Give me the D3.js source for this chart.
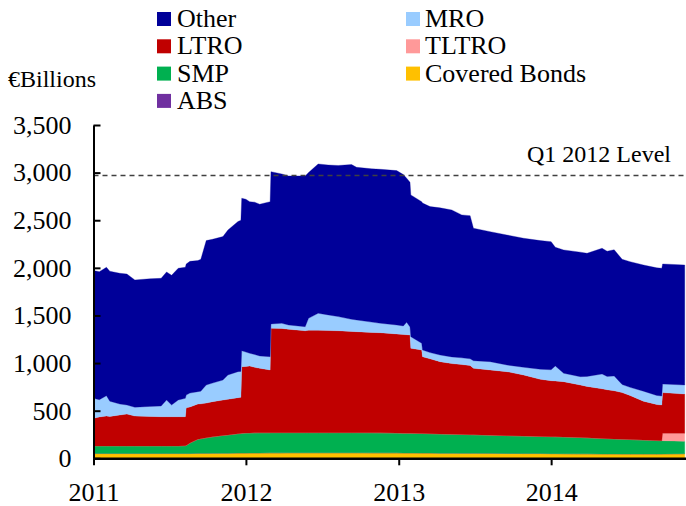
<!DOCTYPE html>
<html>
<head>
<meta charset="utf-8">
<script src="https://cdn.jsdelivr.net/npm/d3@7"></script>
<style>
  body { margin: 0; background: #fff; }
  svg { display: block; font-family: "Liberation Serif", "Times New Roman", serif; }
</style>
</head>
<body>
<div id="chart"></div>
<script>
// ECB balance sheet, asset side components (EUR bn)
const dates = [
  "2011-01-01","2011-01-15","2011-02-01","2011-02-09","2011-03-05","2011-03-22","2011-04-10","2011-05-16",
  "2011-06-12","2011-06-25","2011-07-07","2011-07-23","2011-08-09","2011-08-11","2011-08-20","2011-09-08",
  "2011-09-15","2011-09-28","2011-10-13","2011-11-07","2011-11-19","2011-12-13","2011-12-20","2011-12-22",
  "2012-01-01","2012-01-10","2012-01-22","2012-02-03","2012-02-28","2012-03-01","2012-03-27","2012-04-12",
  "2012-05-22","2012-05-30","2012-06-22","2012-07-16","2012-08-09","2012-09-10","2012-09-22","2012-10-28",
  "2012-11-18","2012-12-27","2013-01-12","2013-01-20","2013-01-28","2013-01-30","2013-02-25","2013-02-27",
  "2013-03-17","2013-04-10","2013-05-08","2013-06-01","2013-06-21","2013-06-29","2013-08-08","2013-09-17",
  "2013-10-27","2013-12-06","2014-01-01","2014-01-11","2014-01-31","2014-03-12","2014-03-28","2014-05-03",
  "2014-05-15","2014-06-01","2014-06-20","2014-07-09","2014-08-10","2014-09-11","2014-09-23","2014-09-25",
  "2014-11-17"
];

const coveredBonds = [
  50,50,50,50,50,50,50,50, 50,50,50,50,50,50,50,52, 52,52,53,54,54,55,55,55,
  55,56,56,56,57,57,57,58, 58,58,58,58,58,58,58,57, 57,57,56,56,56,56,55,55,
  55,54,54,53,53,53,52,51, 50,50,49,49,48,47,47,46, 46,46,45,45,45,45,45,46, 48
];
const abs = [
  0,0,0,0,0,0,0,0, 0,0,0,0,0,0,0,0, 0,0,0,0,0,0,0,0,
  0,0,0,0,0,0,0,0, 0,0,0,0,0,0,0,0, 0,0,0,0,0,0,0,0,
  0,0,0,0,0,0,0,0, 0,0,0,0,0,0,0,0, 0,0,0,0,0,0,0,0, 0
];
const smp = [
  80,80,80,80,80,80,80,80, 80,80,80,80,82,85,110,148, 153,163,172,186,191,203,205,207,
  210,210,211,212,211,212,212,211, 211,211,211,211,211,211,211,211, 210,208,207,207,206,206,205,205,
  203,201,198,197,195,194,191,187, 183,179,178,177,176,171,168,162, 160,157,155,152,146,141,140,139, 130
];
const tltro = [
  0,0,0,0,0,0,0,0, 0,0,0,0,0,0,0,0, 0,0,0,0,0,0,0,0,
  0,0,0,0,0,0,0,0, 0,0,0,0,0,0,0,0, 0,0,0,0,0,0,0,0,
  0,0,0,0,0,0,0,0, 0,0,0,0,0,0,0,0, 0,0,0,0,0,0,0,78, 85
];
const ltro = [
  290,305,314,310,325,335,314,310, 307,307,307,307,305,395,380,370, 367,365,370,372,375,379,380,700,
  700,704,688,677,660,1097,1095,1086, 1071,1076,1076,1073,1071,1063,1061,1054, 1052,1041,1037,1035,1033,893,878,807,
  787,760,743,735,727,698,685,672, 642,601,588,586,581,552,540,522, 514,507,490,463,409,379,375,427, 412
];
const mro = [
  210,180,214,160,115,95,92,105, 112,175,123,175,193,135,145,130, 133,190,195,210,255,273,272,168,
  150,133,135,130,139,45,54,45, 42,125,178,164,148,128,123,108, 99,94,90,130,85,122,70,71,
  65,70,70,70,70,80,87,70, 81,105,115,158,88,87,105,155, 140,155,85,85,105,95,94,90, 95
];
const other = [
  1341,1345,1348,1365,1373,1375,1337,1340, 1341,1345,1362,1384,1376,1375,1383,1376, 1385,1516,1510,1506,1523,1576,1588,1601,
  1605,1592,1600,1593,1628,1599,1568,1565, 1583,1530,1568,1574,1587,1625,1603,1610, 1617,1621,1590,1513,1520,1489,1487,1542,
  1533,1545,1543,1501,1503,1391,1365,1365, 1355,1351,1345,1246,1295,1308,1293,1321, 1315,1325,1315,1320,1325,1340,1342,1261, 1260
];

const q1Level = 2970;
const yTicks = [0, 500, 1000, 1500, 2000, 2500, 3000, 3500];

const series = [
  { key: "Covered Bonds", color: "#FFC000", values: coveredBonds },
  { key: "ABS", color: "#7030A0", values: abs },
  { key: "SMP", color: "#00B050", values: smp },
  { key: "TLTRO", color: "#FF9999", values: tltro },
  { key: "LTRO", color: "#C00000", values: ltro },
  { key: "MRO", color: "#99CCFF", values: mro },
  { key: "Other", color: "#000099", values: other }
];
const legendCol1 = ["Other", "LTRO", "SMP", "ABS"];
const legendCol2 = ["MRO", "TLTRO", "Covered Bonds"];

const width = 686, height = 506;
const parse = d3.timeParse("%Y-%m-%d");

const rows = dates.map((d, i) => {
  const r = { date: parse(d) };
  series.forEach(s => r[s.key] = s.values[i]);
  return r;
});

const svg = d3.select("#chart").append("svg")
  .attr("width", width)
  .attr("height", height);

const x = d3.scaleTime()
  .domain([parse("2011-01-01"), parse("2014-11-20")])
  .range([93.5, 686]);
const y = d3.scaleLinear()
  .domain([0, 3500])
  .range([458.3, 125]);

const stack = d3.stack().keys(series.map(s => s.key));
const layers = stack(rows);
const colorOf = Object.fromEntries(series.map(s => [s.key, s.color]));

const area = d3.area()
  .x(d => x(d.data.date))
  .y0(d => y(d[0]))
  .y1(d => y(d[1]));

svg.append("g")
  .selectAll("path")
  .data(layers)
  .join("path")
  .attr("d", area)
  .attr("fill", d => colorOf[d.key])
  .attr("stroke", d => colorOf[d.key])
  .attr("stroke-width", 0.3);

// Q1 2012 level reference line
svg.append("line")
  .attr("x1", x.range()[0]).attr("x2", x.range()[1])
  .attr("y1", y(q1Level)).attr("y2", y(q1Level))
  .attr("stroke", "#404040")
  .attr("stroke-width", 1.5)
  .attr("stroke-dasharray", "5,4");

svg.append("text")
  .attr("x", 671)
  .attr("y", 162)
  .attr("text-anchor", "end")
  .attr("font-size", 24)
  .attr("fill", "#000")
  .text("Q1 2012 Level");

// axes
const yAxis = svg.append("g")
  .attr("transform", `translate(${x.range()[0]},0)`)
  .call(d3.axisLeft(y).tickValues(yTicks).tickFormat(d3.format(",")).tickSize(-7).tickSizeOuter(0).tickPadding(22));
yAxis.select(".domain").attr("stroke-width", 2);
yAxis.selectAll(".tick line").attr("stroke-width", 2);
yAxis.selectAll("text").attr("font-size", 26).attr("font-family", "Liberation Serif, serif").attr("fill", "#000");

const xAxis = svg.append("g")
  .attr("transform", `translate(0,${y(0)})`)
  .call(d3.axisBottom(x).ticks(d3.timeYear.every(1)).tickFormat(d3.timeFormat("%Y")).tickSize(7).tickSizeOuter(0).tickPadding(17));
xAxis.select(".domain").attr("stroke-width", 2.5);
xAxis.selectAll(".tick line").attr("stroke-width", 2);
xAxis.selectAll("text").attr("font-size", 26).attr("font-family", "Liberation Serif, serif").attr("fill", "#000");

svg.append("text")
  .attr("x", 8)
  .attr("y", 87)
  .attr("font-size", 24)
  .text("€Billions");

// legend
const legend = svg.append("g");
[[legendCol1, 157, 177], [legendCol2, 406, 425]].forEach(([items, sx, tx]) => {
  items.forEach((name, i) => {
    const cy = 19 + i * 27.3;
    legend.append("rect")
      .attr("x", sx).attr("y", cy - 7)
      .attr("width", 14).attr("height", 14)
      .attr("fill", colorOf[name]);
    legend.append("text")
      .attr("x", tx).attr("y", cy + 8)
      .attr("font-size", 26)
      .text(name);
  });
});
</script>
</body>
</html>
